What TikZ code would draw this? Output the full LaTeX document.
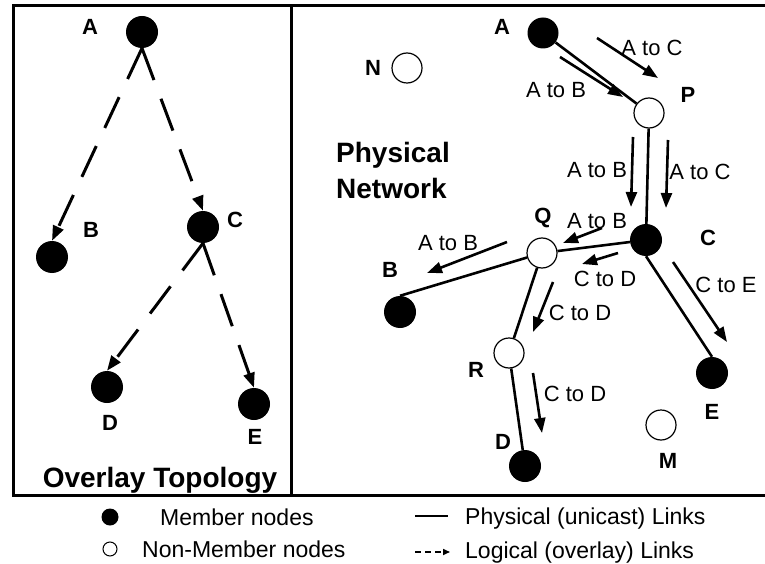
\documentclass[tikz,border=0pt]{standalone}
\usepackage{fontspec}
\setmainfont{Liberation Sans}
\usetikzlibrary{arrows.meta}
\tikzset{
  member/.style={circle,fill=black,inner sep=0pt,minimum size=32pt},
  nonmember/.style={circle,draw,fill=white,line width=1.2pt,inner sep=0pt,minimum size=30pt},
  tag/.style={font=\fontsize{22}{26}\selectfont\bfseries,inner sep=0pt},
  flowlabel/.style={font=\fontsize{22}{26}\selectfont,inner sep=0pt},
  keytext/.style={font=\fontsize{23}{27}\selectfont,inner sep=0pt,anchor=base west},
  physlink/.style={line width=2.6pt},
  logical/.style={line width=3pt,dash pattern=on 34pt off 20pt,-{Triangle[length=15pt,width=11pt]}},
  flow/.style={line width=2.6pt,-{Triangle[length=15pt,width=11pt]}},
}
\begin{document}
\begin{tikzpicture}[x=1pt,y=-1pt]
\useasboundingbox (0,0) rectangle (765,564);
%frames
\draw[line width=3pt] (13,6) rectangle (291,495);
\draw[line width=3pt] (291,6) rectangle (768,495);
%overlay tree
\node[member] (oA) at (142,32) {};
\node[member] (oB) at (52,257) {};
\node[member] (oC) at (203,227) {};
\node[member] (oD) at (107,387) {};
\node[member] (oE) at (254,404) {};
\node[tag] (oAl) at (90,27) {A};
\node[tag] (oBl) at (91,230) {B};
\node[tag] (oCl) at (235,220) {C};
\node[tag] (oDl) at (110,423) {D};
\node[tag] (oEl) at (255,437) {E};
\draw[logical] (oA.south) -- (oB.north);
\draw[logical] (oA.south) -- (oC.north);
\draw[logical] (oC.south) -- (oD.north);
\draw[logical] (oC.south) -- (oE.north);
\node[font=\fontsize{28}{32}\selectfont\bfseries,anchor=base,inner sep=0pt] (topo) at (160,487) {Overlay Topology};
%physical network
\node[font=\fontsize{28}{36}\selectfont\bfseries,align=left,anchor=north west,inner sep=0pt] (net) at (336,142) {Physical\\Network};
\node[member,minimum size=31pt] (pA) at (543,33) {};
\node[nonmember] (pN) at (407,68) {};
\node[nonmember] (pP) at (649,113) {};
\node[member] (pC) at (646,240) {};
\node[nonmember] (pQ) at (542,253) {};
\node[member] (pB) at (400,312) {};
\node[nonmember] (pR) at (509,353) {};
\node[member] (pD) at (525,466) {};
\node[member] (pE) at (712,373) {};
\node[nonmember] (pM) at (661,425) {};
\node[tag] (pAl) at (502,27) {A};
\node[tag] (pNl) at (373,68) {N};
\node[tag] (pPl) at (688,95) {P};
\node[tag] (pCl) at (708,238) {C};
\node[tag] (pQl) at (543,218) {Q};
\node[tag] (pBl) at (390,270) {B};
\node[tag] (pRl) at (476,370) {R};
\node[tag] (pDl) at (503,442) {D};
\node[tag] (pEl) at (712,412) {E};
\node[tag] (pMl) at (668,461) {M};
\draw[physlink] (pA) -- (pP);
\draw[physlink] (pP) -- (pC);
\draw[physlink] (pC) -- (pQ);
\draw[physlink] (pQ) -- (pB.north);
\draw[physlink] (pQ) -- (pR);
\draw[physlink] (pR) -- (pD);
\draw[physlink] (pC.south) -- (pE.north);
%traffic on the links
\coordinate (ac1s) at (597,38);  \coordinate (ac1e) at (658,78);
\coordinate (ab1s) at (560,57);  \coordinate (ab1e) at (623,97);
\coordinate (ab2s) at (633,137); \coordinate (ab2e) at (631,207);
\coordinate (ac2s) at (668,140); \coordinate (ac2e) at (666,208);
\coordinate (ab3s) at (602,228); \coordinate (ab3e) at (563,243);
\coordinate (cd1s) at (618,253); \coordinate (cd1e) at (582,264);
\coordinate (ab4s) at (507,242); \coordinate (ab4e) at (427,273);
\coordinate (cd2s) at (553,282); \coordinate (cd2e) at (533,332);
\coordinate (cd3s) at (533,373); \coordinate (cd3e) at (542,433);
\coordinate (ces) at (673,262);  \coordinate (cee) at (727,342);
\draw[flow] (ac1s) -- (ac1e);
\draw[flow] (ab1s) -- (ab1e);
\draw[flow] (ab2s) -- (ab2e);
\draw[flow] (ac2s) -- (ac2e);
\draw[flow] (ab3s) -- (ab3e);
\draw[flow] (cd1s) -- (cd1e);
\draw[flow] (ab4s) -- (ab4e);
\draw[flow] (cd2s) -- (cd2e);
\draw[flow] (cd3s) -- (cd3e);
\draw[flow] (ces) -- (cee);
\node[flowlabel] (ac1) at (652,48) {A to C};
\node[flowlabel] (ab1) at (556,90) {A to B};
\node[flowlabel] (ab2) at (597,170) {A to B};
\node[flowlabel] (ac2) at (700,172) {A to C};
\node[flowlabel] (ab3) at (597,221) {A to B};
\node[flowlabel] (cd1) at (605,279) {C to D};
\node[flowlabel] (ab4) at (448,243) {A to B};
\node[flowlabel] (cd2) at (580,313) {C to D};
\node[flowlabel] (cd3) at (575,394) {C to D};
\node[flowlabel] (ce) at (726,285) {C to E};
%legend
\node[circle,fill=black,inner sep=0pt,minimum size=17pt] (kMem) at (110,517) {};
\node[circle,draw,line width=1pt,inner sep=0pt,minimum size=14pt] (kNon) at (110,549) {};
\node[keytext] (kMemT) at (160,525) {Member nodes};
\node[keytext] (kNonT) at (142,557) {Non-Member nodes};
\node[keytext] (kPhysT) at (465,524) {Physical (unicast) Links};
\node[keytext] (kLogT) at (465,558) {Logical (overlay) Links};
\draw[line width=1.6pt] ([xshift=-50pt,yshift=8pt]kPhysT.base west) -- ([xshift=-17pt,yshift=8pt]kPhysT.base west);
\draw[line width=1.6pt,dash pattern=on 6pt off 4pt,-{Triangle[length=7pt,width=6pt]}] ([xshift=-50pt,yshift=6pt]kLogT.base west) -- ([xshift=-15pt,yshift=6pt]kLogT.base west);
\end{tikzpicture}
\end{document}
